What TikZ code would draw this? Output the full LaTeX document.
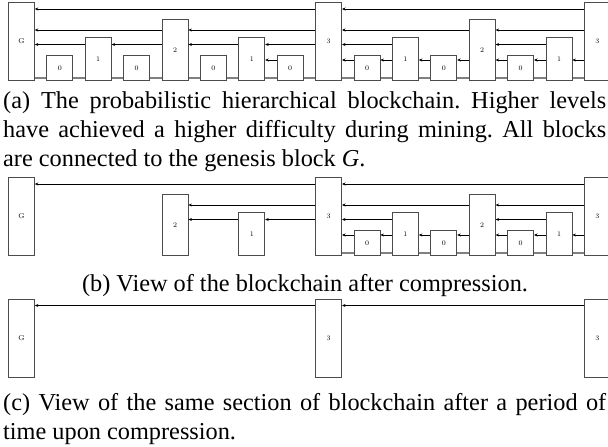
\documentclass[tikz,border=0pt]{standalone}
\usepackage{fontspec}
\setmainfont{Liberation Serif}
\newfontfamily\lmfont{Latin Modern Roman}
\usetikzlibrary{arrows.meta}
\tikzset{
  blk/.style={draw=black!70, fill=white, line width=0.8pt, minimum width=26pt, inner sep=0pt, font=\lmfont\fontsize{7}{8}\selectfont},
  ptr/.style={draw=black, line width=0.8pt, -{Stealth[length=3.5pt,width=3pt]}},
  chain/.style={draw=black!50, line width=1.2pt},
  captxt/.style={inner sep=0pt, font=\fontsize{24.3}{29}\selectfont\frenchspacing}
}
\newcommand\mkblk[5]{\node[blk, minimum height=#4pt, anchor=south west] (#1) at (#2,#5) {#3};}
\begin{document}
\begin{tikzpicture}[x=1pt,y=-1pt]
\useasboundingbox (0,0) rectangle (608,447);
% ---------- panel (a)
\coordinate (aL3) at (0,9);
\coordinate (aL2) at (0,30);
\coordinate (aL1) at (0,44.5);
\coordinate (aL0) at (0,60);
\coordinate (aCs) at (34,78);
\coordinate (aCe) at (600,78);
\draw[chain] (aCs) -- (aCe);
\mkblk{a0}{8}{G}{78}{81}
\mkblk{a1}{46.4}{0}{25}{81}
\mkblk{a2}{84.8}{1}{43}{81}
\mkblk{a3}{123.2}{0}{25}{81}
\mkblk{a4}{161.6}{2}{61}{81}
\mkblk{a5}{200}{0}{25}{81}
\mkblk{a6}{238.4}{1}{43}{81}
\mkblk{a7}{276.8}{0}{25}{81}
\mkblk{a8}{315.2}{3}{78}{81}
\mkblk{a9}{353.6}{0}{25}{81}
\mkblk{a10}{392}{1}{43}{81}
\mkblk{a11}{430.4}{0}{25}{81}
\mkblk{a12}{468.8}{2}{61}{81}
\mkblk{a13}{507.2}{0}{25}{81}
\mkblk{a14}{545.6}{1}{43}{81}
\mkblk{a15}{584}{3}{78}{81}
% level 3
\draw[ptr] (a8.west |- aL3) -- (a0.east |- aL3);
\draw[ptr] (a15.west |- aL3) -- (a8.east |- aL3);
% level 2
\draw[ptr] (a4.west |- aL2) -- (a0.east |- aL2);
\draw[ptr] (a8.west |- aL2) -- (a4.east |- aL2);
\draw[ptr] (a12.west |- aL2) -- (a8.east |- aL2);
\draw[ptr] (a15.west |- aL2) -- (a12.east |- aL2);
% level 1
\draw[ptr] (a2.west |- aL1) -- (a0.east |- aL1);
\draw[ptr] (a4.west |- aL1) -- (a2.east |- aL1);
\draw[ptr] (a6.west |- aL1) -- (a4.east |- aL1);
\draw[ptr] (a8.west |- aL1) -- (a6.east |- aL1);
\draw[ptr] (a10.west |- aL1) -- (a8.east |- aL1);
\draw[ptr] (a14.west |- aL1) -- (a12.east |- aL1);
% level 0
\draw[ptr] (a7.west |- aL0) -- (a6.east |- aL0);
\draw[ptr] (a9.west |- aL0) -- (a8.east |- aL0);
\draw[ptr] (a10.west |- aL0) -- (a9.east |- aL0);
\draw[ptr] (a11.west |- aL0) -- (a10.east |- aL0);
\draw[ptr] (a12.west |- aL0) -- (a11.east |- aL0);
\draw[ptr] (a13.west |- aL0) -- (a12.east |- aL0);
\draw[ptr] (a14.west |- aL0) -- (a13.east |- aL0);
\draw[ptr] (a15.west |- aL0) -- (a14.east |- aL0);
% caption (a)
\node[captxt, anchor=base west] (capa1) at (3,108) {\makebox[603pt][s]{(a) The probabilistic hierarchical blockchain. Higher levels}};
\node[captxt, anchor=base west] (capa2) at (3,137) {\makebox[603pt][s]{have achieved a higher difficulty during mining. All blocks}};
\node[captxt, anchor=base west] (capa3) at (3,166) {are connected to the genesis block \textit{G}.};
% ---------- panel (b)
\coordinate (bL3) at (0,184);
\coordinate (bL2) at (0,205);
\coordinate (bL1) at (0,219.5);
\coordinate (bL0) at (0,235);
\coordinate (bCs) at (341,253);
\coordinate (bCe) at (600,253);
\draw[chain] (bCs) -- (bCe);
\mkblk{b0}{8}{G}{78}{256}
\mkblk{b4}{161.6}{2}{61}{256}
\mkblk{b6}{238.4}{1}{43}{256}
\mkblk{b8}{315.2}{3}{78}{256}
\mkblk{b9}{353.6}{0}{25}{256}
\mkblk{b10}{392}{1}{43}{256}
\mkblk{b11}{430.4}{0}{25}{256}
\mkblk{b12}{468.8}{2}{61}{256}
\mkblk{b13}{507.2}{0}{25}{256}
\mkblk{b14}{545.6}{1}{43}{256}
\mkblk{b15}{584}{3}{78}{256}
\draw[ptr] (b8.west |- bL3) -- (b0.east |- bL3);
\draw[ptr] (b15.west |- bL3) -- (b8.east |- bL3);
\draw[ptr] (b8.west |- bL2) -- (b4.east |- bL2);
\draw[ptr] (b12.west |- bL2) -- (b8.east |- bL2);
\draw[ptr] (b15.west |- bL2) -- (b12.east |- bL2);
\draw[ptr] (b6.west |- bL1) -- (b4.east |- bL1);
\draw[ptr] (b8.west |- bL1) -- (b6.east |- bL1);
\draw[ptr] (b10.west |- bL1) -- (b8.east |- bL1);
\draw[ptr] (b14.west |- bL1) -- (b12.east |- bL1);
\draw[ptr] (b9.west |- bL0) -- (b8.east |- bL0);
\draw[ptr] (b10.west |- bL0) -- (b9.east |- bL0);
\draw[ptr] (b11.west |- bL0) -- (b10.east |- bL0);
\draw[ptr] (b12.west |- bL0) -- (b11.east |- bL0);
\draw[ptr] (b13.west |- bL0) -- (b12.east |- bL0);
\draw[ptr] (b14.west |- bL0) -- (b13.east |- bL0);
\draw[ptr] (b15.west |- bL0) -- (b14.east |- bL0);
\node[captxt, anchor=base] (capb) at (305,291) {(b) View of the blockchain after compression.};
% ---------- panel (c)
\coordinate (cL3) at (0,305.5);
\mkblk{c0}{8}{G}{78}{377.5}
\mkblk{c8}{315.2}{3}{78}{377.5}
\mkblk{c15}{584}{3}{78}{377.5}
\draw[ptr] (c8.west |- cL3) -- (c0.east |- cL3);
\draw[ptr] (c15.west |- cL3) -- (c8.east |- cL3);
\node[captxt, anchor=base west] (capc1) at (3,410) {\makebox[603pt][s]{(c) View of the same section of blockchain after a period of}};
\node[captxt, anchor=base west] (capc2) at (3,439) {time upon compression.};
\end{tikzpicture}
\end{document}
